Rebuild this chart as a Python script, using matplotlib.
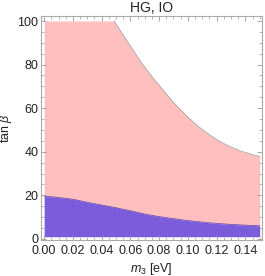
import numpy as np
import matplotlib
matplotlib.use("Agg")
import matplotlib.pyplot as plt
from matplotlib.ticker import MultipleLocator

plt.rcParams['font.family'] = ['Liberation Sans', 'DejaVu Sans']
plt.rcParams['mathtext.fontset'] = 'custom'
plt.rcParams['mathtext.rm'] = 'Liberation Sans'
plt.rcParams['mathtext.it'] = 'Liberation Sans:italic'

# upper boundary of allowed region (pink)
m_up = [0.0, 0.0487, 0.055, 0.0619, 0.068, 0.075, 0.0828, 0.0898, 0.0946, 0.1015,
        0.1085, 0.1177, 0.125, 0.135, 0.142, 0.150]
tb_up = [100, 100, 93.5, 86.7, 80.6, 74.5, 68.3, 62.8, 59.5, 55.0,
         51.0, 46.6, 43.8, 40.8, 39.3, 37.8]
# lower curve (purple top)
m_lo = [0.0, 0.0042, 0.010, 0.020, 0.030, 0.044, 0.060, 0.074, 0.090, 0.1015, 0.1245, 0.150]
tb_lo = [19.4, 19.4, 19.0, 18.2, 16.8, 15.1, 12.9, 10.9, 9.3, 8.3, 6.9, 6.0]
tb_min = 1.0

title = "HG, IO"
xticks = [0.00, 0.02, 0.04, 0.06, 0.08, 0.10, 0.12, 0.14]
yticks = [0, 20, 40, 60, 80, 100]

pink = "#ffbfbf"
purple = "#7b5cdb"


def smooth(xs, ys, n=12):
    """Catmull-Rom curve through the read points, for drawing."""
    xs = np.asarray(xs, float); ys = np.asarray(ys, float)
    P = np.column_stack([xs, ys])
    P = np.vstack([P[0] * 2 - P[1], P, P[-1] * 2 - P[-2]])
    out = []
    t = np.linspace(0, 1, n, endpoint=False)[:, None]
    for i in range(1, len(P) - 2):
        p0, p1, p2, p3 = P[i - 1], P[i], P[i + 1], P[i + 2]
        seg = 0.5 * ((2 * p1) + (-p0 + p2) * t + (2 * p0 - 5 * p1 + 4 * p2 - p3) * t ** 2
                     + (-p0 + 3 * p1 - 3 * p2 + p3) * t ** 3)
        out.append(seg)
    out.append(P[-2][None, :])
    out = np.vstack(out)
    return out[:, 0], out[:, 1]


fig = plt.figure(figsize=(2.65, 2.76), dpi=100)
ax = fig.add_axes([41/265, 36/276, 221/265, 224/276])

ux, uy = smooth(m_up[1:], tb_up[1:])
lx, ly = smooth(m_lo, tb_lo)
m = np.linspace(0, 0.15, 600)
up = np.interp(m, np.concatenate([[0.0], ux]), np.concatenate([[100.0], uy]))
lo = np.interp(m, lx, ly)

ax.fill_between(m, lo, up, color=pink, lw=0)
ax.plot(ux, uy, color="#a8a8a8", lw=0.6)
ax.fill_between(m, tb_min, lo, color=purple, lw=0)
ax.plot(lx, ly, color="#5a3fb0", lw=0.5)

ax.set_xlim(-0.0022, 0.1516)
ax.set_ylim(-0.5, 102.3)
ax.set_xticks(xticks)
ax.set_xticklabels([f"{v:.2f}" for v in xticks])
ax.set_yticks(yticks)
ax.xaxis.set_minor_locator(MultipleLocator(0.005))
ax.yaxis.set_minor_locator(MultipleLocator(5))
ax.tick_params(which="both", direction="in", top=True, right=True,
               color="#999999", labelsize=9, labelcolor="#222222")
ax.tick_params(axis="x", pad=3.5)
ax.tick_params(axis="y", pad=2)
ax.tick_params(which="major", length=3.5, width=0.6)
ax.tick_params(which="minor", length=2, width=0.5)
for s in ax.spines.values():
    s.set_color("#aaaaaa")
    s.set_linewidth(0.8)

ax.set_title(title, fontsize=10, color="#222222", pad=3)
ax.set_xlabel(r"$m_3$ [eV]", fontsize=9, color="#222222", labelpad=3)
ax.set_ylabel(r"tan $\beta$", fontsize=9, color="#222222", labelpad=2)

fig.savefig("out.png", dpi=100)
